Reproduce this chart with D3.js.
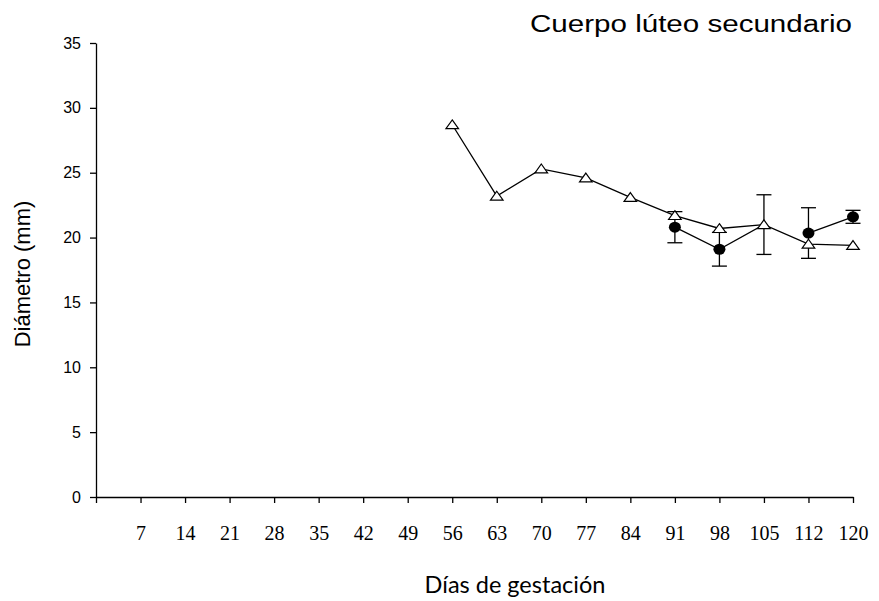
<!DOCTYPE html>
<html>
<head>
<meta charset="utf-8">
<script src="https://cdn.jsdelivr.net/npm/d3@7"></script>
<style>
  body { margin: 0; background: #fff; }
  .axis path, .axis line { stroke: #000; stroke-width: 1.3; }
</style>
</head>
<body>
<div id="vis"></div>
<script>
// categories on the x axis (first slot is the blank origin)
let dayLabels = ["", "7", "14", "21", "28", "35", "42", "49", "56", "63", "70", "77", "84", "91", "98", "105", "112", "120"]
let yTicks = [0, 5, 10, 15, 20, 25, 30, 35]

// triangle series (open)
let triDays = ["56", "63", "70", "77", "84", "91", "98", "105", "112", "120"]
let triVals = [28.7, 23.2, 25.3, 24.6, 23.1, 21.7, 20.7, 21.0, 19.5, 19.4]
let triErr = [0, 0, 0, 0, 0, 0, 0, 0, 0, 0]

// circle series (filled)
let circDays = ["91", "98", "105", "112", "120"]
let circVals = [20.8, 19.1, 21.0, 20.35, 21.6]
let circErr = [1.2, 1.3, 2.3, 1.95, 0.5]
let circSegments = [["91", "98", "105"], ["112", "120"]]
let circHidden = ["105"]

let W = 879, H = 601

let svg = d3.select('#vis')
  .append('svg')
  .attr('width', W)
  .attr('height', H)

let x = d3.scalePoint()
  .domain(dayLabels)
  .range([96, 853])

let y = d3.scaleLinear()
  .domain([0, 35])
  .range([497, 43])

// axes
svg.append('g')
  .attr('class', 'axis')
  .attr('transform', 'translate(0,' + y(0) + ')')
  .call(d3.axisBottom(x).tickSize(6).tickPadding(23).tickSizeOuter(0))
  .call(g => g.selectAll('text')
    .attr('fill', '#000')
    .style('font-family', '"Liberation Serif", "Times New Roman", serif')
    .style('font-size', '20px'))

svg.append('g')
  .attr('class', 'axis')
  .attr('transform', 'translate(' + x("") + ',0)')
  .call(d3.axisLeft(y).tickValues(yTicks).tickSize(6).tickPadding(9).tickSizeOuter(0))
  .call(g => g.selectAll('text')
    .attr('fill', '#000')
    .style('font-family', '"Liberation Sans", Arial, sans-serif')
    .style('font-size', '16px'))

// lines
let line = d3.line()
  .x(d => x(d.day))
  .y(d => y(d.val))

let triData = triDays.map((d, i) => ({ day: d, val: triVals[i], err: triErr[i] }))
let circData = circDays.map((d, i) => ({ day: d, val: circVals[i], err: circErr[i] }))

svg.append('path')
  .datum(triData)
  .attr('d', line)
  .attr('fill', 'none')
  .attr('stroke', '#000')
  .attr('stroke-width', 1.3)

circSegments.forEach(seg => {
  svg.append('path')
    .datum(circData.filter(d => seg.includes(d.day)))
    .attr('d', line)
    .attr('fill', 'none')
    .attr('stroke', '#000')
    .attr('stroke-width', 1.3)
})

// error bars
let errData = triData.concat(circData).filter(d => d.err > 0)
let eb = svg.append('g')
  .attr('stroke', '#000')
  .attr('stroke-width', 1.3)
eb.selectAll('.stem')
  .data(errData)
  .enter()
  .append('line')
  .attr('x1', d => x(d.day))
  .attr('x2', d => x(d.day))
  .attr('y1', d => y(d.val - d.err))
  .attr('y2', d => y(d.val + d.err))
eb.selectAll('.capHi')
  .data(errData)
  .enter()
  .append('line')
  .attr('x1', d => x(d.day) - 7.5)
  .attr('x2', d => x(d.day) + 7.5)
  .attr('y1', d => y(d.val + d.err))
  .attr('y2', d => y(d.val + d.err))
eb.selectAll('.capLo')
  .data(errData)
  .enter()
  .append('line')
  .attr('x1', d => x(d.day) - 7.5)
  .attr('x2', d => x(d.day) + 7.5)
  .attr('y1', d => y(d.val - d.err))
  .attr('y2', d => y(d.val - d.err))

// filled circles
svg.selectAll('.circ')
  .data(circData.filter(d => !circHidden.includes(d.day)))
  .enter()
  .append('ellipse')
  .attr('cx', d => x(d.day))
  .attr('cy', d => y(d.val))
  .attr('rx', 6)
  .attr('ry', 5.5)
  .attr('fill', '#000')

// open triangles
svg.selectAll('.tri')
  .data(triData)
  .enter()
  .append('path')
  .attr('transform', d => 'translate(' + x(d.day) + ',' + y(d.val) + ')')
  .attr('d', 'M0,-4.8 L6.3,4 L-6.3,4 Z')
  .attr('fill', '#fff')
  .attr('stroke', '#000')
  .attr('stroke-width', 1.2)

// titles
svg.append('text')
  .attr('x', 530)
  .attr('y', 32)
  .attr('textLength', 322)
  .attr('lengthAdjust', 'spacingAndGlyphs')
  .style('font-family', '"Liberation Sans", Arial, sans-serif')
  .style('font-size', '23px')
  .text('Cuerpo lúteo secundario')

svg.append('text')
  .attr('transform', 'translate(30,' + 274 + ') rotate(-90)')
  .attr('text-anchor', 'middle')
  .style('font-family', '"Liberation Sans", Arial, sans-serif')
  .style('font-size', '22px')
  .text('Diámetro (mm)')

svg.append('text')
  .attr('x', 515)
  .attr('y', 593)
  .attr('text-anchor', 'middle')
  .style('font-family', 'Lato, "Open Sans", sans-serif')
  .style('font-size', '23.5px')
  .text('Días de gestación')
</script>
</body>
</html>
